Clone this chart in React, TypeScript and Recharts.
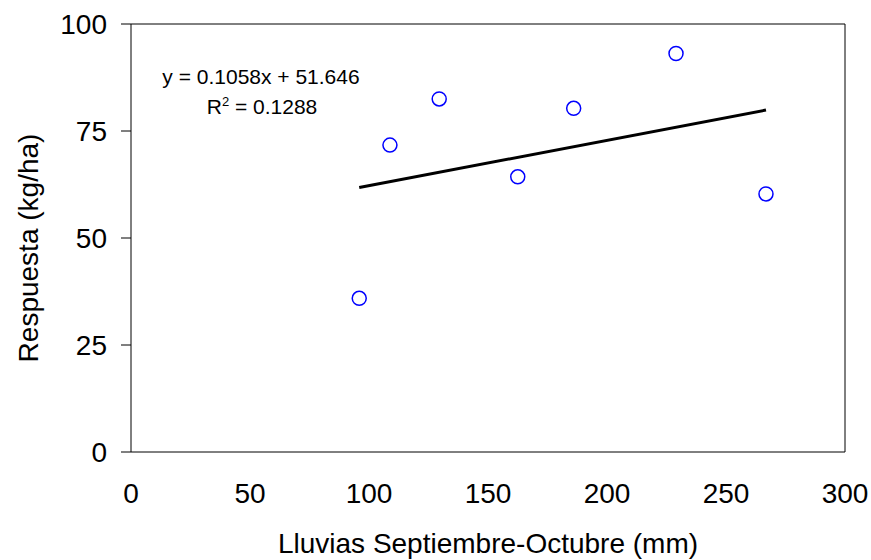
import { ScatterChart, Scatter, XAxis, YAxis, ReferenceLine, Label, Customized } from "recharts";

// lluvias sept-oct (mm) vs respuesta (kg/ha)
const rainfall = [95.9, 108.8, 129.5, 162.5, 186.0, 229.0, 266.8];
const response = [35.9, 71.7, 82.5, 64.3, 80.3, 93.1, 60.3];

// trend line ends
const trendX = [95.9, 266.8];
const trendY = [61.8, 79.9];

const xTicks = [0, 50, 100, 150, 200, 250, 300];
const yTicks = [0, 25, 50, 75, 100];

const FONT = "'Liberation Sans', Arial, sans-serif";

const points = rainfall.map((x, i) => ({ x, y: response[i] }));
const trend = trendX.map((x, i) => ({ x, y: trendY[i] }));

const OpenCircle = (props: any) => (
  <circle cx={props.cx} cy={props.cy} r={7} fill="none" stroke="#0000FF" strokeWidth={1.5} />
);

const NoDot = () => <g />;

const Equation = () => (
  <g fontFamily={FONT} fontSize={21} fill="#000">
    <text x={261} y={84} textAnchor="middle">y = 0.1058x + 51.646</text>
    <text x={262} y={114} textAnchor="middle">
      R<tspan fontSize={13} dy={-8}>2</tspan>
      <tspan dy={8}> = 0.1288</tspan>
    </text>
  </g>
);

const YTitle = () => (
  <text
    x={38}
    y={248}
    transform="rotate(-90 38 248)"
    textAnchor="middle"
    fontFamily={FONT}
    fontSize={28}
    fill="#000"
  >
    Respuesta (kg/ha)
  </text>
);

export default function App() {
  return (
    <div style={{ position: "absolute", left: 0, top: 0, background: "#fff" }}>
      <ScatterChart width={871} height={560} margin={{ top: 24, right: 26, left: 0, bottom: 0 }}>
        <XAxis
          type="number"
          dataKey="x"
          domain={[0, 300]}
          ticks={xTicks}
          height={108}
          tickLine={false}
          tickSize={0}
          tickMargin={31}
          axisLine={{ stroke: "#000" }}
          tick={{ fill: "#000", fontSize: 28, fontFamily: FONT }}
        >
          <Label
            value="Lluvias Septiembre-Octubre (mm)"
            position="insideBottom"
            offset={7}
            style={{ fill: "#000", fontSize: 28, fontFamily: FONT }}
          />
        </XAxis>
        <YAxis
          type="number"
          dataKey="y"
          domain={[0, 100]}
          ticks={yTicks}
          width={131}
          tickSize={10}
          tickMargin={14}
          axisLine={{ stroke: "#000" }}
          tickLine={{ stroke: "#000" }}
          tick={{ fill: "#000", fontSize: 28, fontFamily: FONT }}
        >
          <Label content={YTitle} />
        </YAxis>
        <ReferenceLine y={100} stroke="#000" />
        <ReferenceLine x={300} stroke="#000" />
        <Scatter
          data={trend}
          line={{ stroke: "#000", strokeWidth: 3 }}
          shape={NoDot}
          isAnimationActive={false}
        />
        <Scatter data={points} shape={OpenCircle} isAnimationActive={false} />
        <Customized component={Equation} />
      </ScatterChart>
    </div>
  );
}
